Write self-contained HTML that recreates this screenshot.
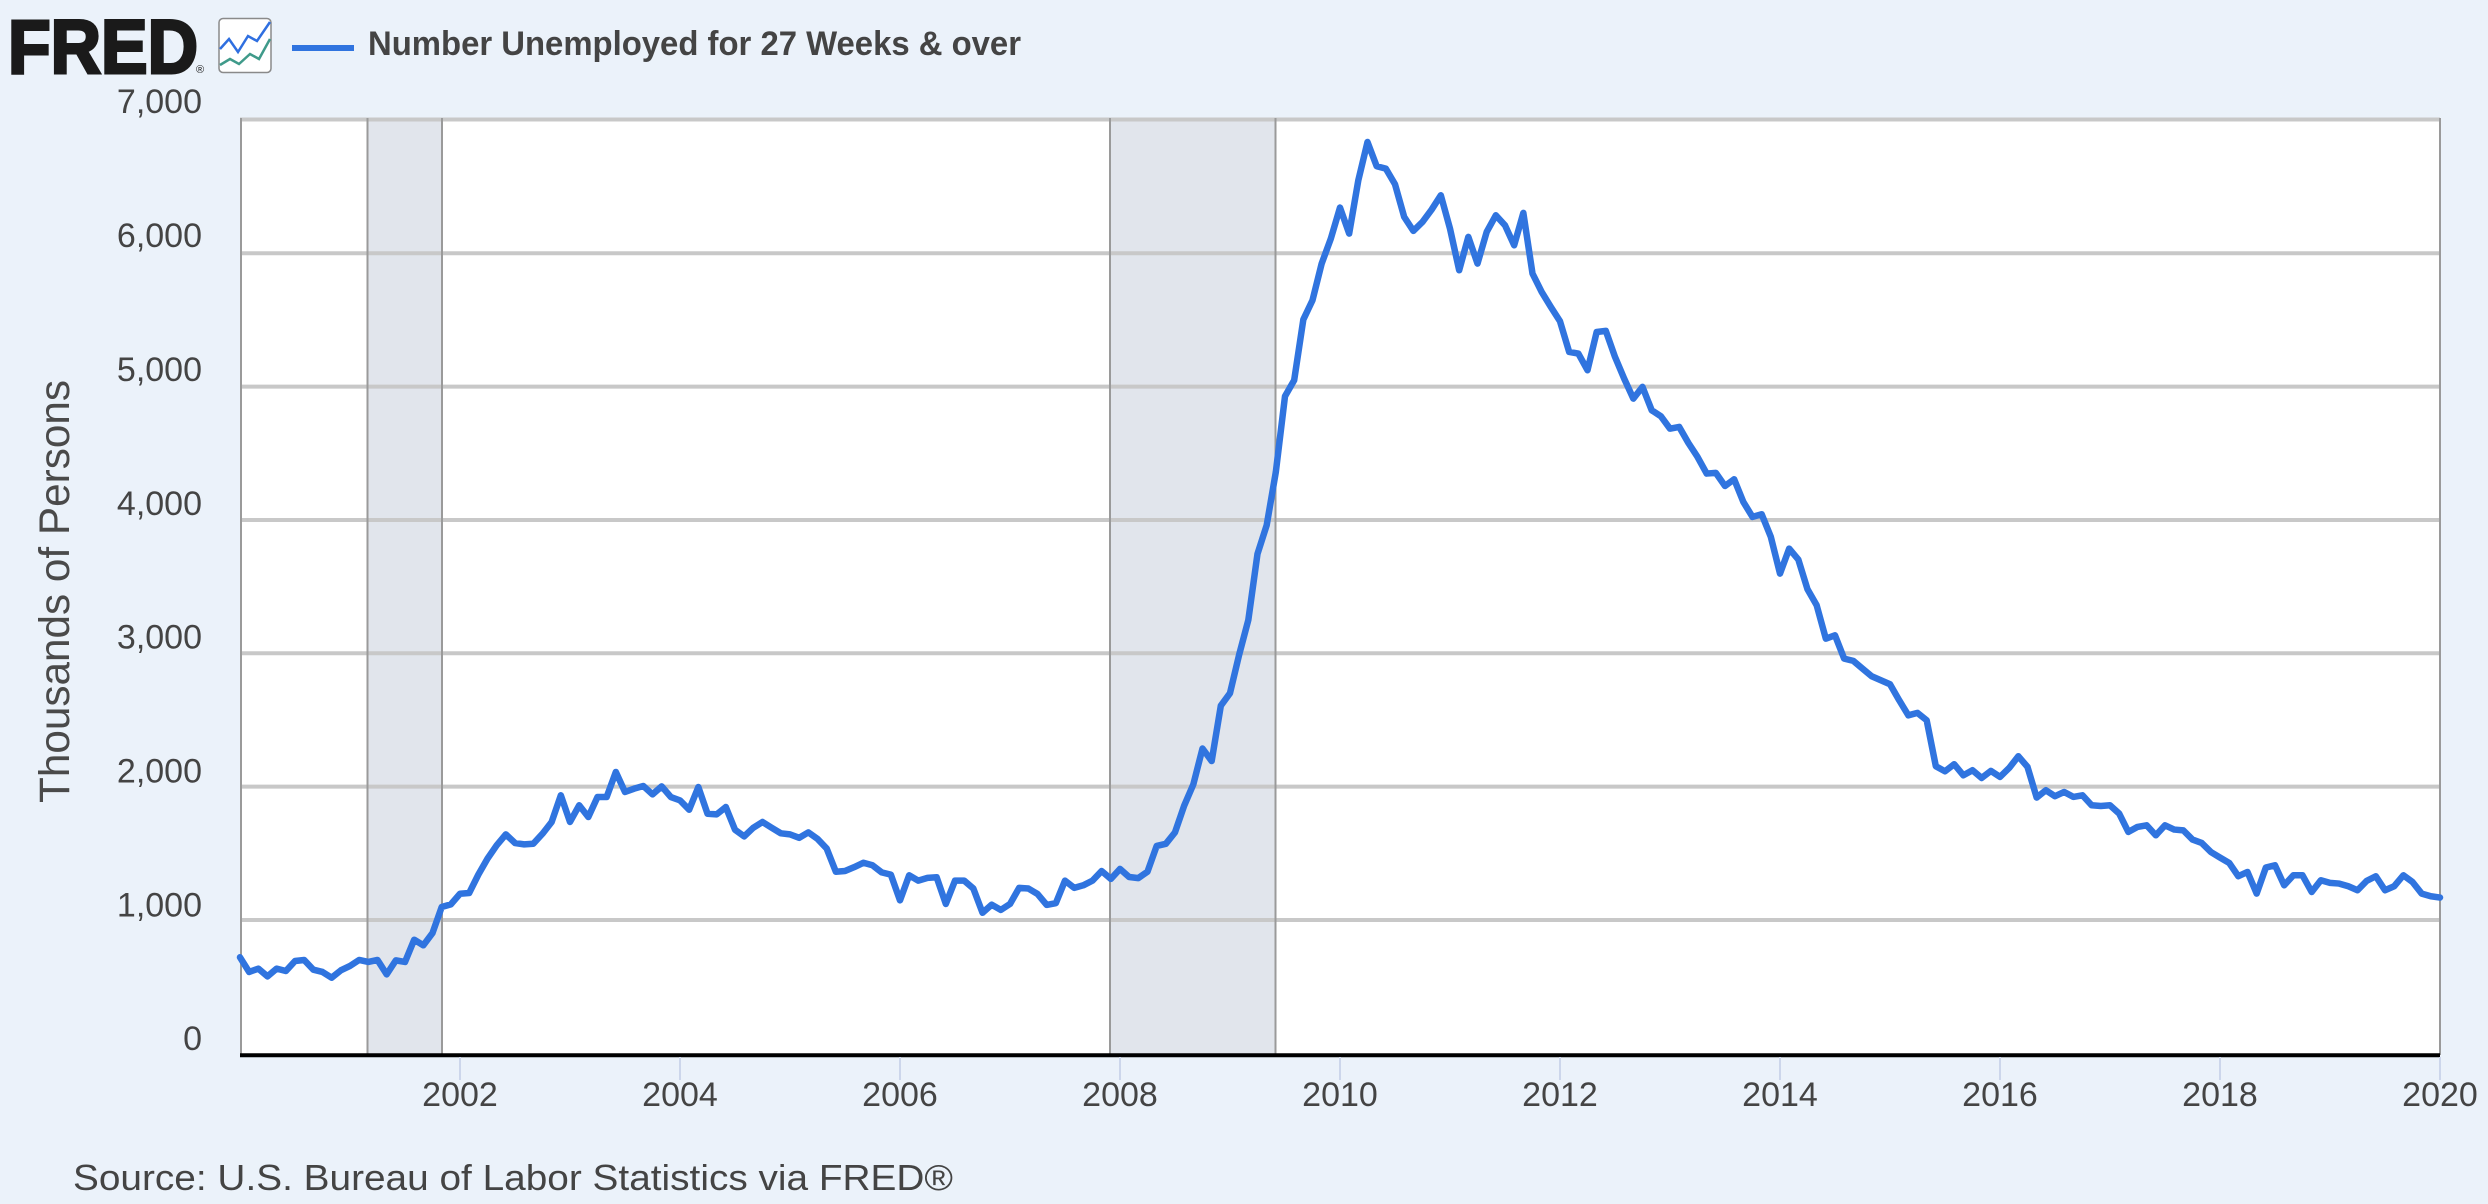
<!DOCTYPE html>
<html>
<head>
<meta charset="utf-8">
<style>
  html, body { margin: 0; padding: 0; background: #ebf2fa; }
  svg { display: block; }
  text { font-family: "Liberation Sans", Arial, sans-serif; }
</style>
</head>
<body>
<svg width="2488" height="1204" viewBox="0 0 2488 1204" xmlns="http://www.w3.org/2000/svg">
  <rect x="0" y="0" width="2488" height="1204" fill="#ebf2fa"/>

  <!-- Header: FRED logo -->
  <text x="8" y="73" font-size="76" font-weight="bold" fill="#1a1a1a" stroke="#1a1a1a" stroke-width="3" textLength="190" lengthAdjust="spacingAndGlyphs">FRED</text>
  <text x="196" y="73" font-size="11" fill="#1a1a1a">®</text>
  <!-- icon -->
  <rect x="219" y="18.5" width="52" height="54" rx="4" ry="4" fill="#ffffff" stroke="#8a8a8a" stroke-width="1.5"/>
  <polyline points="220,49 229,39 238,52 248,36 257,41 270,22" fill="none" stroke="#2f6fe0" stroke-width="2.5"/>
  <polyline points="220,65 230,59 239,64 250,54 259,59 270,39" fill="none" stroke="#3f9a8a" stroke-width="2.5"/>
  <!-- legend -->
  <rect x="292" y="45" width="62" height="6" fill="#3074df"/>
  <text x="368" y="55" font-size="34" font-weight="bold" fill="#444444" textLength="653" lengthAdjust="spacingAndGlyphs">Number Unemployed for 27 Weeks &amp; over</text>

  <!-- Plot background -->
  <rect x="240" y="118" width="2200" height="937" fill="#ffffff"/>
  <!-- Recessions -->
  <rect x="367.5" y="118" width="74.5" height="937" fill="#e1e5ec"/>
  <rect x="1110" y="118" width="165.5" height="937" fill="#e1e5ec"/>

  <!-- Gridlines -->
  <g stroke="#c8c8c8" stroke-width="4">
    <line x1="240" y1="920" x2="2440" y2="920"/>
    <line x1="240" y1="786.6" x2="2440" y2="786.6"/>
    <line x1="240" y1="653.3" x2="2440" y2="653.3"/>
    <line x1="240" y1="520" x2="2440" y2="520"/>
    <line x1="240" y1="386.6" x2="2440" y2="386.6"/>
    <line x1="240" y1="253.3" x2="2440" y2="253.3"/>
    <line x1="240" y1="119.5" x2="2440" y2="119.5"/>
  </g>

  <!-- Recession edges & borders -->
  <g stroke="#9a9a9a" stroke-width="2">
    <line x1="367.5" y1="118" x2="367.5" y2="1055"/>
    <line x1="442" y1="118" x2="442" y2="1055"/>
    <line x1="1110" y1="118" x2="1110" y2="1055"/>
    <line x1="1275.5" y1="118" x2="1275.5" y2="1055"/>
    <line x1="241" y1="118" x2="241" y2="1055"/>
    <line x1="2440" y1="118" x2="2440" y2="1055"/>
  </g>

  <!-- Data line -->
  <g transform="translate(240,1053.3) scale(9.16667,-0.133333)">
    <polyline fill="none" stroke="#3074df" stroke-width="6.5" stroke-linejoin="round" stroke-linecap="round" vector-effect="non-scaling-stroke"
      points="0,720 1,610 2,635 3,577 4,635 5,617 6,692 7,700 8,627 9,610 10,567 11,622 12,655 13,700 14,685 15,700 16,592 17,697 18,685 19,852 20,810 21,902 22,1097 23,1117 24,1197 25,1202 26,1340 27,1460 28,1560 29,1642 30,1577 31,1567 32,1572 33,1647 34,1735 35,1935 36,1735 37,1860 38,1772 39,1922 40,1922 41,2110 42,1960 43,1985 44,2005 45,1942 46,2002 47,1922 48,1897 49,1827 50,1997 51,1797 52,1792 53,1847 54,1677 55,1627 56,1692 57,1735 58,1692 59,1650 60,1642 61,1616 62,1657 63,1608 64,1536 65,1362 66,1367 67,1396 68,1429 69,1410 70,1357 71,1340 72,1147 73,1335 74,1295 75,1316 76,1320 77,1120 78,1295 79,1295 80,1236 81,1054 82,1115 83,1075 84,1120 85,1241 86,1236 87,1195 88,1113 89,1126 90,1295 91,1241 92,1260 93,1295 94,1367 95,1308 96,1383 97,1322 98,1314 99,1362 100,1555 101,1571 102,1657 103,1857 104,2017 105,2286 106,2192 107,2607 108,2701 109,2990 110,3250 111,3746 112,3960 113,4360 114,4928 115,5048 116,5503 117,5648 118,5923 119,6110 120,6343 121,6148 122,6548 123,6835 124,6653 125,6635 126,6518 127,6273 128,6168 129,6235 130,6328 131,6435 132,6185 133,5873 134,6123 135,5923 136,6160 137,6285 138,6210 139,6060 140,6303 141,5848 142,5710 143,5598 144,5490 145,5260 146,5248 147,5123 148,5410 149,5418 150,5223 151,5060 152,4910 153,4998 154,4823 155,4778 156,4685 157,4698 158,4578 159,4473 160,4348 161,4353 162,4255 163,4305 164,4135 165,4023 166,4043 167,3873 168,3598 169,3785 170,3703 171,3480 172,3360 173,3110 174,3135 175,2960 176,2943 177,2885 178,2828 179,2798 180,2768 181,2648 182,2535 183,2553 184,2498 185,2153 186,2115 187,2168 188,2085 189,2123 190,2065 191,2118 192,2073 193,2140 194,2228 195,2148 196,1918 197,1973 198,1928 199,1960 200,1923 201,1935 202,1860 203,1855 204,1860 205,1798 206,1660 207,1698 208,1710 209,1635 210,1710 211,1678 212,1672 213,1603 214,1578 215,1510 216,1468 217,1428 218,1328 219,1360 220,1198 221,1393 222,1410 223,1260 224,1335 225,1335 226,1210 227,1298 228,1278 229,1273 230,1253 231,1223 232,1293 233,1328 234,1223 235,1253 236,1335 237,1285 238,1198 239,1178 240,1168"/>
  </g>

  <!-- Bottom axis line -->
  <line x1="240" y1="1055.3" x2="2440" y2="1055.3" stroke="#000000" stroke-width="4"/>

  <!-- X ticks -->
  <g stroke="#ccd6eb" stroke-width="2">
    <line x1="460" y1="1057" x2="460" y2="1080"/>
    <line x1="680" y1="1057" x2="680" y2="1080"/>
    <line x1="900" y1="1057" x2="900" y2="1080"/>
    <line x1="1120" y1="1057" x2="1120" y2="1080"/>
    <line x1="1340" y1="1057" x2="1340" y2="1080"/>
    <line x1="1560" y1="1057" x2="1560" y2="1080"/>
    <line x1="1780" y1="1057" x2="1780" y2="1080"/>
    <line x1="2000" y1="1057" x2="2000" y2="1080"/>
    <line x1="2220" y1="1057" x2="2220" y2="1080"/>
    <line x1="2440" y1="1057" x2="2440" y2="1080"/>
  </g>

  <!-- X labels -->
  <g font-size="34" fill="#444444" text-anchor="middle">
    <text x="460" y="1106">2002</text>
    <text x="680" y="1106">2004</text>
    <text x="900" y="1106">2006</text>
    <text x="1120" y="1106">2008</text>
    <text x="1340" y="1106">2010</text>
    <text x="1560" y="1106">2012</text>
    <text x="1780" y="1106">2014</text>
    <text x="2000" y="1106">2016</text>
    <text x="2220" y="1106">2018</text>
    <text x="2440" y="1106">2020</text>
  </g>

  <!-- Y labels -->
  <g font-size="34" fill="#444444" text-anchor="end">
    <text x="202" y="1050">0</text>
    <text x="202" y="916.6">1,000</text>
    <text x="202" y="782.7">2,000</text>
    <text x="202" y="648.7">3,000</text>
    <text x="202" y="514.8">4,000</text>
    <text x="202" y="380.9">5,000</text>
    <text x="202" y="247">6,000</text>
    <text x="202" y="113">7,000</text>
  </g>

  <!-- Y axis title -->
  <text transform="translate(69,591.5) rotate(-90)" font-size="43" fill="#4a4a4a" text-anchor="middle" textLength="423" lengthAdjust="spacingAndGlyphs">Thousands of Persons</text>

  <!-- Source -->
  <text x="73" y="1190" font-size="36" fill="#444444" textLength="880" lengthAdjust="spacingAndGlyphs">Source: U.S. Bureau of Labor Statistics via FRED®</text>
</svg>
</body>
</html>
